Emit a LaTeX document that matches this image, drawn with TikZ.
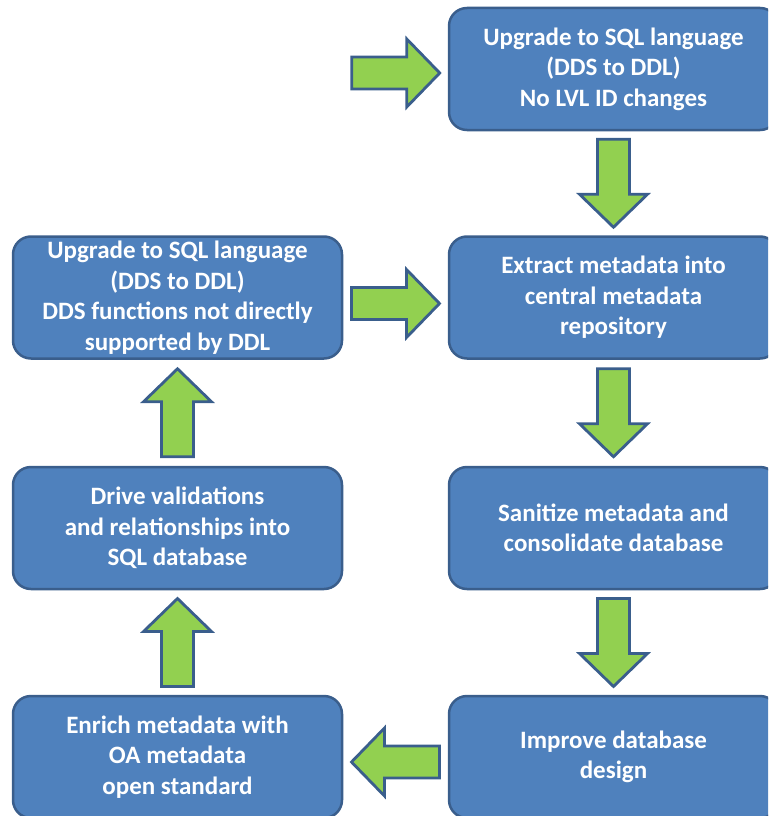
\documentclass[tikz,border=0pt]{standalone}
\usepackage{fontspec}
\setmainfont{Carlito}
\usetikzlibrary{calc}
\definecolor{boxblue}{HTML}{4F81BD}
\definecolor{boxline}{HTML}{3A5E8C}
\definecolor{arrgreen}{HTML}{92D050}

\tikzset{
    stepbox/.style={draw=boxline,line width=2.5pt,fill=boxblue,rounded corners=18pt,
        minimum width=329pt,minimum height=122pt,align=center,text=white,
        font=\bfseries\fontsize{25}{30.5}\selectfont,
        execute at end node={\\[-19pt]\mbox{}}},
    blockarrow/.pic={
        \draw[draw=boxline,line width=2.8pt,fill=arrgreen,line join=miter]
            (-44,-16) -- (11,-16) -- (11,-34) -- (44,0) -- (11,34) -- (11,16) -- (-44,16) -- cycle;
    }
}

\begin{document}
\begin{tikzpicture}[x=1pt,y=-1pt]
    \useasboundingbox (0,0) rectangle (768,816);
    \clip (0,0) rectangle (768,816);
    % right column
    \node[stepbox] (up1) at (613.5,69) {Upgrade to SQL language\\(DDS to DDL)\\No LVL ID changes};
    \node[stepbox] (extract) at (613.5,297.5) {Extract metadata into\\central metadata\\repository};
    \node[stepbox] (sanitize) at (613.5,528) {Sanitize metadata and\\consolidate database};
    \node[stepbox] (improve) at (613.5,757) {Improve database\\design};
    % left column
    \node[stepbox] (up2) at (177.5,297.5) {Upgrade to SQL language\\(DDS to DDL)\\DDS functions not directly\\supported by DDL};
    \node[stepbox] (drive) at (177.5,528) {Drive validations\\and relationships into\\SQL database};
    \node[stepbox] (enrich) at (177.5,757) {Enrich metadata with\\OA metadata\\open standard};
    % arrows
    \pic at ($(up1.west)+(-52,4)$) {blockarrow};
    \pic[rotate=-90] at ($(up1.south)!0.5!(extract.north)$) {blockarrow};
    \pic at ($(up2.east)!0.5!(extract.west)+(0,6)$) {blockarrow};
    \pic[rotate=-90] at ($(extract.south)!0.5!(sanitize.north)$) {blockarrow};
    \pic[rotate=-90] at ($(sanitize.south)!0.5!(improve.north)$) {blockarrow};
    \pic[rotate=180] at ($(improve.west)!0.5!(enrich.east)+(0,5)$) {blockarrow};
    \pic[rotate=90] at ($(enrich.north)!0.5!(drive.south)$) {blockarrow};
    \pic[rotate=90] at ($(drive.north)!0.5!(up2.south)$) {blockarrow};
\end{tikzpicture}
\end{document}
